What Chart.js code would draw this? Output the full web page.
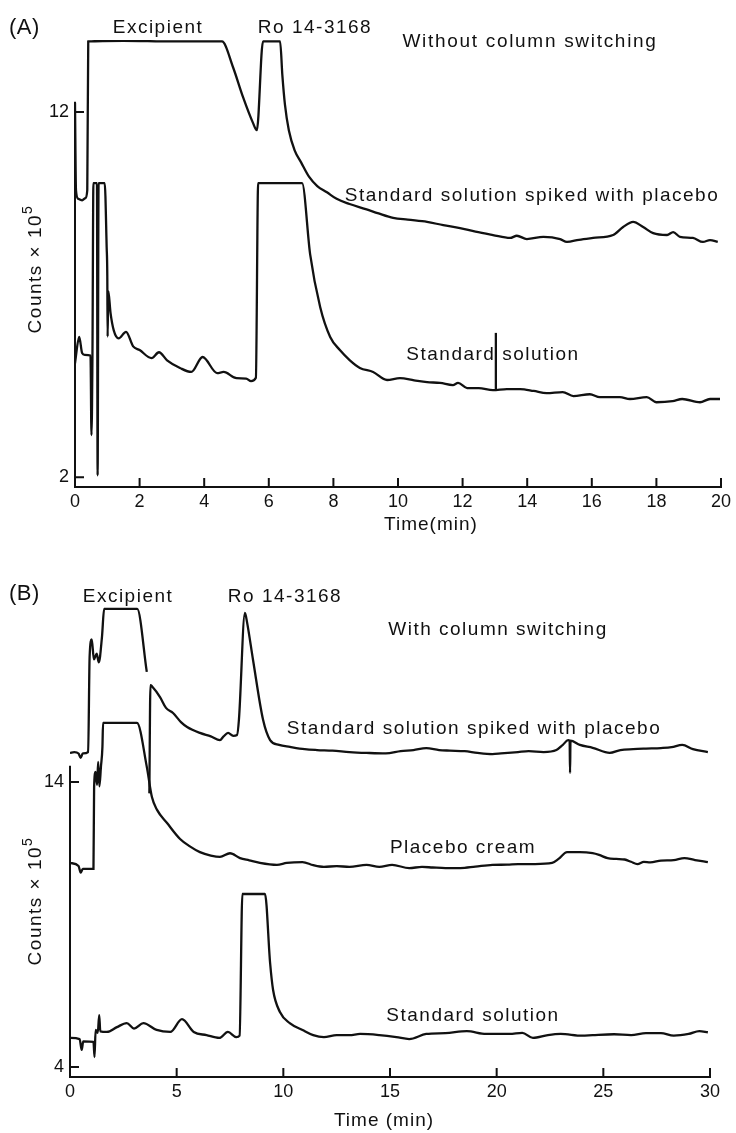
<!DOCTYPE html>
<html>
<head>
<meta charset="utf-8">
<title>Ro 14-3168 chromatograms</title>
<script src="https://cdn.jsdelivr.net/npm/chart.js@4.4.1/dist/chart.umd.min.js"></script>
<style>
  body { margin: 0; background: #fff; }
  #wrap { position: relative; width: 736px; height: 1133px; }
  canvas { position: absolute; left: 0; }
  #chartA { top: 0; }
  #chartB { top: 560px; }
</style>
</head>
<body>
<div id="wrap">
  <canvas id="chartA" width="736" height="550"></canvas>
  <canvas id="chartB" width="736" height="573"></canvas>
</div>
<script>
// (A) without column switching -- time in min, counts x 10^5
var timeA_spiked = [0, 0.03, 0.1, 0.22, 0.32, 0.38, 0.41, 1.5, 3.0, 4.55, 4.89, 5.2, 5.51, 5.63, 5.82, 6.35,
    6.42, 6.5, 6.62, 6.8, 7.0, 7.25, 7.5, 7.8, 8.1, 8.5, 9.0, 9.4, 9.85, 10.3, 10.9, 11.4, 11.92, 12.4,
    12.94, 13.47, 13.68, 13.99, 14.5, 15.02, 15.23, 15.6, 16.04, 16.66, 16.97, 17.28, 17.59, 17.9, 18.33,
    18.52, 18.73, 19.13, 19.44, 19.66, 19.9];
var countsA_spiked = [12.25, 9.86, 9.62, 9.58, 9.64, 9.86, 13.93, 13.95, 13.93, 13.93, 13.23, 12.41, 11.7, 11.5, 13.93, 13.93,
    13.0, 12.2, 11.5, 10.95, 10.62, 10.22, 9.97, 9.8, 9.62, 9.48, 9.34, 9.22, 9.1, 9.05, 8.99, 8.9, 8.82, 8.72,
    8.63, 8.55, 8.61, 8.52, 8.58, 8.52, 8.44, 8.5, 8.55, 8.63, 8.85, 8.99, 8.85, 8.68, 8.63,
    8.71, 8.58, 8.55, 8.44, 8.49, 8.44];

var timeA_std = [0, 0.13, 0.22, 0.3, 0.48, 0.51, 0.54, 0.57, 0.68, 0.7, 0.73, 0.92, 0.98, 1.0, 1.01, 1.03,
    1.1, 1.2, 1.35, 1.58, 1.8, 2.0, 2.37, 2.6, 2.85, 3.25, 3.6, 3.95, 4.4, 4.6, 5.0, 5.3, 5.45, 5.6, 5.67,
    7.03, 7.28, 7.59, 7.9, 8.2, 8.51, 8.82, 9.23, 9.66, 10.06, 10.5, 10.9, 11.3, 11.7, 11.86, 12.14, 12.5,
    12.94, 13.37, 13.78, 14.2, 14.6, 15.1, 15.43, 15.94, 16.25, 16.87, 17.18, 17.7, 18.0, 18.5, 18.8,
    19.35, 19.66, 19.97];
var countsA_std = [5.12, 5.84, 5.4, 5.35, 5.33, 3.15, 5.3, 10.05, 10.05, 2.05, 10.05, 10.05, 8.3, 7.5, 5.85, 7.1,
    6.5, 6.02, 5.8, 5.98, 5.58, 5.48, 5.26, 5.42, 5.2, 4.99, 4.88, 5.29, 4.85, 4.88, 4.71, 4.7, 4.63, 4.72, 10.05,
    10.05, 8.1, 6.66, 5.84, 5.48, 5.2, 4.99, 4.88, 4.66, 4.71, 4.65, 4.6, 4.58, 4.52, 4.58, 4.44, 4.44,
    4.38, 4.41, 4.41, 4.36, 4.3, 4.33, 4.22, 4.27, 4.19, 4.19, 4.14, 4.19, 4.05, 4.08, 4.14,
    4.05, 4.14, 4.14];

// pen mark under the "Standard solution" label
var timeA_mark = [13.03, 13.03];
var countsA_mark = [4.39, 5.95];

var xTicksA = [0, 2, 4, 6, 8, 10, 12, 14, 16, 18, 20];
var yTicksA = [2, 12];

// (B) with column switching
var timeB_spiked = [0, 0.2, 0.4, 0.5, 0.6, 0.85, 0.92, 1.02, 1.12, 1.25, 1.35, 1.5, 1.6, 2.5, 3.15, 3.6,
    3.64, 3.72, 3.77, 3.85, 4.22, 4.5, 4.83, 5.2, 5.49, 6.09, 6.6, 7.03, 7.2, 7.41, 7.65, 7.83, 7.92, 8.2,
    8.3, 8.58, 9.05, 9.38, 9.8, 10.31, 11.0, 11.58, 12.3, 13.1, 13.9, 14.8, 15.5, 16.1, 16.7, 17.3, 17.8,
    18.5, 19.1, 19.8, 20.2, 21.0, 21.5, 22.2, 22.8, 23.1, 23.35, 23.42, 23.44, 23.46, 23.9, 24.5, 25.3,
    25.8, 26.4, 27.0, 27.7, 28.2, 28.7, 29.2, 29.9];
var countsB_spiked = [15.02, 15.05, 15.0, 14.85, 15.0, 15.05, 18.4, 19.0, 18.3, 18.5, 18.2, 19.1, 20.07, 20.07, 20.07, 17.86,
    null, 13.6, 17.4, 17.35, 16.98, 16.6, 16.42, 16.1, 15.93, 15.72, 15.6, 15.47, 15.6, 15.72, 15.62, 15.65, 16.2, 19.93,
    19.6, 18.28, 16.18, 15.47, 15.3, 15.23, 15.15, 15.12, 15.1, 15.05, 15.02, 15.0, 15.08, 15.12, 15.19, 15.12, 15.1,
    15.08, 15.02, 14.98, 15.0, 15.05, 15.08, 15.05, 15.12, 15.3, 15.47, 15.45, 14.32, 15.45, 15.3, 15.2, 15.02,
    15.12, 15.15, 15.17, 15.19, 15.22, 15.3, 15.15, 15.05];

var timeB_placebo = [0, 0.4, 0.5, 0.6, 1.1, 1.13, 1.2, 1.27, 1.32, 1.38, 1.45, 1.52, 1.55, 2.5, 3.14, 3.6,
    3.84, 4.08, 4.55, 5.16, 5.6, 6.09, 6.6, 7.03, 7.5, 7.97, 8.4, 8.9, 9.7, 10.16, 10.9, 11.4, 11.9, 12.5,
    13.1, 13.9, 14.5, 15.1, 15.9, 16.5, 17.0, 17.6, 18.3, 19.0, 19.8, 20.5, 21.0, 21.8, 22.6, 22.9, 23.3,
    23.9, 24.5, 24.8, 25.2, 25.6, 26.0, 26.3, 26.6, 26.9, 27.2, 27.7, 28.3, 28.8, 29.3, 29.9];
var countsB_placebo = [11.16, 11.05, 10.82, 10.95, 10.95, 13.82, 14.35, 13.9, 14.7, 13.85, 14.53, 15.23, 16.07, 16.07, 16.07, 14.53,
    13.47, 13.02, 12.56, 12.0, 11.75, 11.54, 11.42, 11.37, 11.5, 11.33, 11.25, 11.16, 11.09, 11.16, 11.19, 11.08, 11.02, 11.05,
    11.02, 11.09, 11.02, 11.09, 10.98, 11.02, 11.0, 10.98, 10.98, 11.03, 11.09, 11.1, 11.12, 11.12, 11.16, 11.3, 11.54,
    11.54, 11.5, 11.44, 11.33, 11.3, 11.28, 11.2, 11.12, 11.2, 11.18, 11.24, 11.26, 11.33, 11.26, 11.19];

var timeB_std = [0, 0.45, 0.55, 0.62, 1.1, 1.15, 1.2, 1.3, 1.37, 1.42, 1.73, 2.2, 2.66, 3.0, 3.44, 4.06,
    4.7, 5.25, 5.8, 6.4, 7.0, 7.4, 7.8, 7.95, 8.08, 9.14, 9.38, 9.52, 9.84, 10.3, 10.9, 11.4, 11.9, 12.5,
    13.1, 13.6, 14.5, 15.3, 15.9, 16.7, 17.6, 18.6, 19.5, 20.6, 21.2, 21.7, 22.4, 23.0, 24.0, 24.5, 25.5,
    26.3, 27.0, 27.7, 28.3, 29.0, 29.5, 29.9];
var countsB_std = [5.02, 4.98, 4.6, 4.9, 4.88, 4.35, 5.3, 5.2, 5.82, 5.25, 5.23, 5.4, 5.54, 5.35, 5.54, 5.3,
    5.23, 5.68, 5.23, 5.12, 5.02, 5.23, 5.05, 5.1, 10.07, 10.07, 7.65, 6.7, 5.93, 5.54, 5.3, 5.12, 5.05, 5.12,
    5.12, 5.16, 5.12, 5.05, 4.98, 5.16, 5.19, 5.26, 5.16, 5.16, 5.2, 5.02, 5.12, 5.16, 5.1, 5.12, 5.15,
    5.12, 5.19, 5.19, 5.1, 5.16, 5.26, 5.22];

var xTicksB = [0, 5, 10, 15, 20, 25, 30];
var yTicksB = [4, 14];

var INK = '#111';
var FONT = '"Liberation Sans", Arial, Helvetica, sans-serif';

function points(times, counts) {
    return times.map(function (t, i) {
        return { x: t, y: counts[i] };
    });
}

function trace(times, counts) {
    return {
        data: points(times, counts),
        borderColor: INK,
        borderWidth: 2.3,
        pointRadius: 0,
        cubicInterpolationMode: 'monotone',
        fill: false,
        spanGaps: false
    };
}

// axes with inward ticks, labels and the y title are painted here
function panelPlugin(cfg) {
    return {
        id: 'panel' + cfg.name,
        afterDraw: function (chart) {
            var ctx = chart.ctx;
            var xs = chart.scales.x, ys = chart.scales.y;
            var left = xs.getPixelForValue(xs.min);
            var right = xs.getPixelForValue(xs.max);
            var bottom = ys.getPixelForValue(ys.min);

            ctx.save();
            ctx.strokeStyle = INK;
            ctx.lineWidth = 2;
            ctx.lineCap = 'square';
            ctx.beginPath();
            ctx.moveTo(left, ys.getPixelForValue(cfg.axisTop));
            ctx.lineTo(left, bottom);
            ctx.lineTo(right, bottom);
            xs.ticks.forEach(function (t) {
                var px = xs.getPixelForValue(t.value);
                ctx.moveTo(px, bottom);
                ctx.lineTo(px, bottom - 8);
            });
            ys.ticks.forEach(function (t) {
                var py = ys.getPixelForValue(t.value);
                ctx.moveTo(left, py);
                ctx.lineTo(left + 8, py);
            });
            ctx.stroke();

            ctx.fillStyle = INK;
            ctx.textBaseline = 'alphabetic';
            cfg.notes.forEach(function (n) {
                ctx.font = n.size + 'px ' + FONT;
                ctx.letterSpacing = (n.spacing || 0) + 'px';
                ctx.textAlign = n.align || 'center';
                ctx.fillText(n.text, n.x, n.y);
            });

            // "Counts x 10^5", read bottom to top
            ctx.translate(cfg.yTitle.x, cfg.yTitle.y);
            ctx.rotate(-Math.PI / 2);
            ctx.textAlign = 'left';
            ctx.letterSpacing = '1.5px';
            ctx.font = '19px ' + FONT;
            var main = 'Counts \u00d7 10';
            var w1 = ctx.measureText(main).width;
            ctx.font = '14px ' + FONT;
            var w2 = ctx.measureText('5').width;
            var start = -(w1 + w2) / 2;
            ctx.font = '19px ' + FONT;
            ctx.fillText(main, start, 0);
            ctx.font = '14px ' + FONT;
            ctx.fillText('5', start + w1, -9);
            ctx.letterSpacing = '0px';
            ctx.restore();
        }
    };
}

function makeChart(canvasId, cfg) {
    return new Chart(document.getElementById(canvasId).getContext('2d'), {
        type: 'line',
        data: { datasets: cfg.datasets },
        options: {
            responsive: false,
            animation: false,
            layout: { padding: { top: cfg.padTop, right: cfg.padRight, left: 0, bottom: 0 } },
            plugins: { legend: { display: false }, tooltip: { enabled: false } },
            scales: {
                x: {
                    type: 'linear',
                    min: cfg.xTicks[0],
                    max: cfg.xTicks[cfg.xTicks.length - 1],
                    grid: { display: false, drawTicks: false },
                    border: { display: false },
                    afterBuildTicks: function (scale) {
                        scale.ticks = cfg.xTicks.map(function (v) { return { value: v }; });
                    },
                    afterFit: function (scale) { scale.height = cfg.xHeight; },
                    ticks: { color: INK, font: { family: FONT, size: 18 }, padding: 4, maxRotation: 0 }
                },
                y: {
                    type: 'linear',
                    min: cfg.yMin,
                    max: cfg.yMax,
                    grid: { display: false, drawTicks: false },
                    border: { display: false },
                    afterBuildTicks: function (scale) {
                        scale.ticks = cfg.yTicks.map(function (v) { return { value: v }; });
                    },
                    afterFit: function (scale) { scale.width = cfg.yWidth; },
                    ticks: { color: INK, font: { family: FONT, size: 18 }, padding: 6 }
                }
            }
        },
        plugins: [panelPlugin(cfg)]
    });
}

makeChart('chartA', {
    name: 'A',
    datasets: [
        trace(timeA_spiked, countsA_spiked),
        trace(timeA_std, countsA_std),
        trace(timeA_mark, countsA_mark)
    ],
    xTicks: xTicksA, yTicks: yTicksA,
    yMin: 1.73, yMax: 13.97, axisTop: 12.25,
    padTop: 40, padRight: 15, xHeight: 63, yWidth: 75,
    yTitle: { x: 41, y: 269 },
    notes: [
        { text: '(A)', x: 9, y: 34, size: 22, align: 'left', spacing: 0.5 },
        { text: 'Excipient', x: 158, y: 33, size: 19, spacing: 1.5 },
        { text: 'Ro 14-3168', x: 315, y: 33, size: 19, spacing: 1.5 },
        { text: 'Without column switching', x: 530, y: 47, size: 19, spacing: 1.7 },
        { text: 'Standard solution spiked with placebo', x: 532, y: 201, size: 19, spacing: 1.5 },
        { text: 'Standard solution', x: 493, y: 360, size: 19, spacing: 1.5 },
        { text: 'Time(min)', x: 431, y: 530, size: 19, spacing: 1 }
    ]
});

makeChart('chartB', {
    name: 'B',
    datasets: [
        trace(timeB_spiked, countsB_spiked),
        trace(timeB_placebo, countsB_placebo),
        trace(timeB_std, countsB_std)
    ],
    xTicks: xTicksB, yTicks: yTicksB,
    yMin: 3.65, yMax: 20.91, axisTop: 14.53,
    padTop: 25, padRight: 26, xHeight: 56, yWidth: 70,
    yTitle: { x: 41, y: 341 },
    notes: [
        { text: '(B)', x: 9, y: 40, size: 22, align: 'left', spacing: 0.5 },
        { text: 'Excipient', x: 128, y: 42, size: 19, spacing: 1.5 },
        { text: 'Ro 14-3168', x: 285, y: 42, size: 19, spacing: 1.5 },
        { text: 'With column switching', x: 498, y: 75, size: 19, spacing: 1.5 },
        { text: 'Standard solution spiked with placebo', x: 474, y: 174, size: 19, spacing: 1.5 },
        { text: 'Placebo cream', x: 463, y: 293, size: 19, spacing: 1.5 },
        { text: 'Standard solution', x: 473, y: 461, size: 19, spacing: 1.5 },
        { text: 'Time (min)', x: 384, y: 566, size: 19, spacing: 1 }
    ]
});
</script>
</body>
</html>
